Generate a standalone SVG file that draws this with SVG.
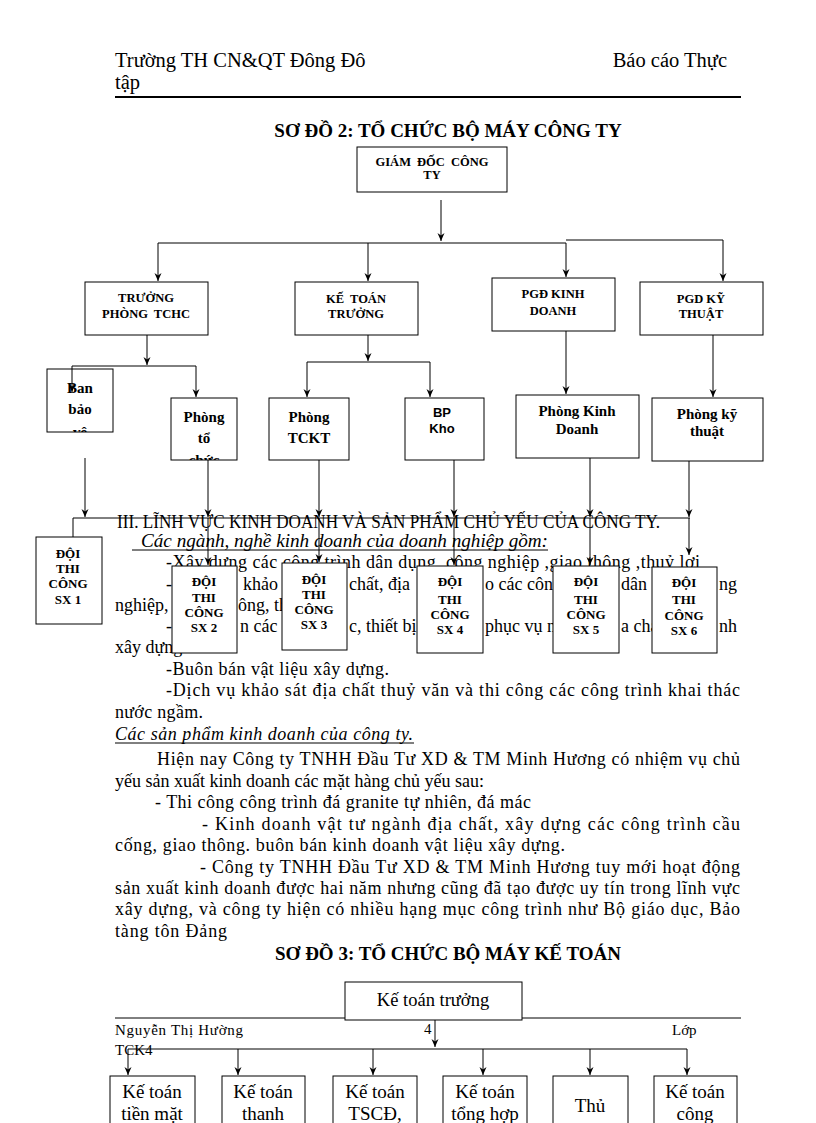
<svg xmlns="http://www.w3.org/2000/svg" width="816" height="1123" viewBox="0 0 816 1123">
<style>
.t{font-family:"Liberation Serif","Times New Roman",serif;fill:#000}
.hd{font-size:20.5px}
.bd{font-size:18px}
.it{font-style:italic}
.ttl{font-size:19px;font-weight:bold;text-anchor:middle}
.ob{font-size:12.5px;font-weight:bold;text-anchor:middle}
.dv{font-size:13px;font-weight:bold;text-anchor:middle}
.ph{font-size:15px;font-weight:bold;text-anchor:middle}
.sn{font-family:"Liberation Sans",Arial,sans-serif;font-size:13px;font-weight:bold;text-anchor:middle;fill:#000}
.kt{font-size:18.5px;text-anchor:middle}
.kb{font-size:19px;text-anchor:middle}
.ft{font-size:15px}
.bx{fill:#fff;stroke:#000;stroke-width:1}
.ln{fill:none;stroke:#000;stroke-width:1}
.ar{fill:none;stroke:#000;stroke-width:1;marker-end:url(#ah)}
</style>
<defs>
<marker id="ah" markerUnits="userSpaceOnUse" markerWidth="10" markerHeight="10" viewBox="0 -5 10 10" refX="9" refY="0" orient="auto">
<path d="M1,-3.5 L9,0 L1,3.5 L3.5,0 Z" fill="#000"/>
</marker>
<clipPath id="cBan"><rect x="47" y="369" width="66" height="63"/></clipPath>
<clipPath id="cTo"><rect x="171" y="398" width="66" height="62"/></clipPath>
</defs>
<rect width="816" height="1123" fill="#fff"/>

<g id="header">
<text class="t hd" x="115" y="67">Trường TH CN&amp;QT Đông Đô</text>
<text class="t hd" x="727" y="67" text-anchor="end">Báo cáo Thực</text>
<text class="t hd" x="115" y="89">tập</text>
<line x1="115" y1="97" x2="741" y2="97" stroke="#000" stroke-width="2.2"/>
</g>

<text class="t ttl" x="448" y="137">SƠ ĐỒ 2: TỔ CHỨC BỘ MÁY CÔNG TY</text>

<g id="body">
<text class="t bd" x="117" y="528" textLength="543" lengthAdjust="spacingAndGlyphs">III. LĨNH VỰC KINH DOANH VÀ SẢN PHẨM CHỦ YẾU CỦA CÔNG TY.</text>
<text class="t bd it" x="141" y="547" textLength="407" lengthAdjust="spacingAndGlyphs">Các ngành, nghề kinh doanh của doanh nghiệp gồm:</text>
<line x1="132" y1="550" x2="548" y2="550" stroke="#000" stroke-width="1"/>
<text class="t bd" x="166" y="568" textLength="534" lengthAdjust="spacing">-Xây dựng các công trình dân dụng, công nghiệp ,giao thông ,thuỷ lợi</text>
<text class="t bd" y="590"><tspan x="166">-</tspan><tspan x="243">khảo</tspan><tspan x="349">chất, địa</tspan><tspan x="485">o các côn</tspan><tspan x="621">dân</tspan><tspan x="719">ng</tspan></text>
<text class="t bd" y="611"><tspan x="115">nghiệp,</tspan><tspan x="238">ông, th</tspan></text>
<text class="t bd" y="632"><tspan x="166">-</tspan><tspan x="240">n các</tspan><tspan x="349">c, thiết bị</tspan><tspan x="485">phục vụ n</tspan><tspan x="621">a cha</tspan><tspan x="719">nh</tspan></text>
<text class="t bd" x="115" y="653">xây dựng</text>
<text class="t bd" x="166" y="675" textLength="223" lengthAdjust="spacing">-Buôn bán vật liệu xây dựng.</text>
<text class="t bd" x="166" y="696" textLength="574" lengthAdjust="spacing">-Dịch vụ khảo sát địa chất thuỷ văn và thi công các công trình khai thác</text>
<text class="t bd" x="115" y="718" textLength="88" lengthAdjust="spacing">nước ngầm.</text>
<text class="t bd it" x="115" y="740" textLength="298" lengthAdjust="spacing">Các sản phẩm kinh doanh của công ty.</text>
<line x1="115" y1="743" x2="414" y2="743" stroke="#000" stroke-width="1"/>
<text class="t bd" x="157" y="765" textLength="583" lengthAdjust="spacing">Hiện nay Công ty TNHH Đầu Tư XD &amp; TM Minh Hương có nhiệm vụ chủ</text>
<text class="t bd" x="115" y="787">yếu sản xuất kinh doanh các mặt hàng chủ yếu sau:</text>
<text class="t bd" x="155" y="808" textLength="376" lengthAdjust="spacing">- Thi công công trình đá granite tự nhiên, đá mác</text>
<text class="t bd" x="202" y="830" textLength="538" lengthAdjust="spacing">- Kinh doanh vật tư ngành địa chất, xây dựng các công trình cầu</text>
<text class="t bd" x="115" y="851" textLength="450" lengthAdjust="spacing">cống, giao thông. buôn bán kinh doanh vật liệu xây dựng.</text>
<text class="t bd" x="200" y="873" textLength="540" lengthAdjust="spacing">- Công ty TNHH Đầu Tư XD &amp; TM Minh Hương tuy mới hoạt động</text>
<text class="t bd" x="115" y="894" textLength="625" lengthAdjust="spacing">sản xuất kinh doanh được hai năm nhưng cũng đã tạo được uy tín trong lĩnh vực</text>
<text class="t bd" x="115" y="915" textLength="625" lengthAdjust="spacing">xây dựng, và công ty hiện có nhiều hạng mục công trình như Bộ giáo dục, Bảo</text>
<text class="t bd" x="115" y="937" textLength="112" lengthAdjust="spacing">tàng tôn Đảng</text>
</g>

<text class="t ttl" x="448" y="960">SƠ ĐỒ 3: TỔ CHỨC BỘ MÁY KẾ TOÁN</text>

<g id="footer">
<line x1="115" y1="1018" x2="741" y2="1018" stroke="#000" stroke-width="1"/>
<text class="t ft" x="115" y="1035" textLength="128" lengthAdjust="spacing">Nguyễn Thị Hường</text>
<text class="t ft" x="424" y="1034">4</text>
<text class="t ft" x="672" y="1035">Lớp</text>
<text class="t ft" x="115" y="1055">TCK4</text>
</g>

<g id="n-giamdoc"><rect class="bx" x="357" y="147" width="150" height="45"/>
<text class="t ob" x="432" y="166" word-spacing="3">GIÁM ĐỐC CÔNG</text><text class="t ob" x="432" y="179">TY</text></g>

<g id="n-tchc"><rect class="bx" x="85" y="282" width="123" height="53"/>
<text class="t ob" x="146" y="302">TRƯỞNG</text><text class="t ob" x="146" y="318" word-spacing="3">PHÒNG TCHC</text></g>
<g id="n-ketoan"><rect class="bx" x="295" y="282" width="123" height="53"/>
<text class="t ob" x="356" y="303" word-spacing="3">KẾ TOÁN</text><text class="t ob" x="356" y="318">TRƯỞNG</text></g>
<g id="n-pgdkd"><rect class="bx" x="492" y="278" width="123" height="53"/>
<text class="t ob" x="553" y="298">PGĐ KINH</text><text class="t ob" x="553" y="315">DOANH</text></g>
<g id="n-pgdkt"><rect class="bx" x="640" y="282" width="123" height="53"/>
<text class="t ob" x="701" y="303">PGD KỸ</text><text class="t ob" x="701" y="318">THUẬT</text></g>

<g id="n-banbaove"><rect class="bx" x="47" y="369" width="66" height="63"/>
<g clip-path="url(#cBan)"><text class="t ph" x="80" y="393">Ban</text><text class="t ph" x="80" y="414">bảo</text><text class="t ph" x="80" y="437">vệ</text></g></g>
<g id="n-phongto"><rect class="bx" x="171" y="398" width="66" height="62"/>
<g clip-path="url(#cTo)"><text class="t ph" x="204" y="422">Phòng</text><text class="t ph" x="204" y="443">tổ</text><text class="t ph" x="204" y="465">chức</text></g></g>
<g id="n-tckt"><rect class="bx" x="269" y="398" width="80" height="62"/>
<text class="t ph" x="309" y="422">Phòng</text><text class="t ph" x="309" y="443">TCKT</text></g>
<g id="n-bpkho"><rect class="bx" x="405" y="398" width="79" height="62"/>
<text class="sn" x="442" y="417">BP</text><text class="sn" x="442" y="433">Kho</text></g>
<g id="n-phongkd"><rect class="bx" x="516" y="395" width="123" height="63"/>
<text class="t ph" x="577" y="416">Phòng Kinh</text><text class="t ph" x="577" y="434">Doanh</text></g>
<g id="n-phongkt"><rect class="bx" x="652" y="398" width="111" height="63"/>
<text class="t ph" x="707" y="419">Phòng kỹ</text><text class="t ph" x="707" y="436">thuật</text></g>

<g id="n-sx1"><rect class="bx" x="36" y="537" width="66" height="87"/>
<text class="t dv" x="68" y="558">ĐỘI</text><text class="t dv" x="68" y="573">THI</text><text class="t dv" x="68" y="588">CÔNG</text><text class="t dv" x="68" y="604">SX 1</text></g>
<g id="n-sx2"><rect class="bx" x="172" y="566" width="65" height="87"/>
<text class="t dv" x="204" y="586">ĐỘI</text><text class="t dv" x="204" y="602">THI</text><text class="t dv" x="204" y="617">CÔNG</text><text class="t dv" x="204" y="632">SX 2</text></g>
<g id="n-sx3"><rect class="bx" x="282" y="563" width="65" height="87"/>
<text class="t dv" x="314" y="584">ĐỘI</text><text class="t dv" x="314" y="599">THI</text><text class="t dv" x="314" y="614">CÔNG</text><text class="t dv" x="314" y="629">SX 3</text></g>
<g id="n-sx4"><rect class="bx" x="417" y="566" width="66" height="87"/>
<text class="t dv" x="450" y="586">ĐỘI</text><text class="t dv" x="450" y="604">THI</text><text class="t dv" x="450" y="619">CÔNG</text><text class="t dv" x="450" y="634">SX 4</text></g>
<g id="n-sx5"><rect class="bx" x="553" y="566" width="66" height="87"/>
<text class="t dv" x="586" y="586">ĐỘI</text><text class="t dv" x="586" y="604">THI</text><text class="t dv" x="586" y="619">CÔNG</text><text class="t dv" x="586" y="634">SX 5</text></g>
<g id="n-sx6"><rect class="bx" x="652" y="567" width="65" height="86"/>
<text class="t dv" x="684" y="587">ĐỘI</text><text class="t dv" x="684" y="604">THI</text><text class="t dv" x="684" y="620">CÔNG</text><text class="t dv" x="684" y="635">SX 6</text></g>

<g id="n-kttruong"><rect class="bx" x="345" y="982" width="177" height="38"/>
<text class="t kt" x="433" y="1006">Kế toán trưởng</text></g>
<g id="n-kt1"><rect class="bx" x="110" y="1076" width="85" height="60"/>
<text class="t kb" x="152" y="1098">Kế toán</text><text class="t kb" x="152" y="1120">tiền mặt</text></g>
<g id="n-kt2"><rect class="bx" x="222" y="1076" width="83" height="60"/>
<text class="t kb" x="263" y="1098">Kế toán</text><text class="t kb" x="263" y="1120">thanh</text></g>
<g id="n-kt3"><rect class="bx" x="333" y="1076" width="84" height="60"/>
<text class="t kb" x="375" y="1098">Kế toán</text><text class="t kb" x="375" y="1120">TSCĐ,</text></g>
<g id="n-kt4"><rect class="bx" x="443" y="1076" width="84" height="60"/>
<text class="t kb" x="485" y="1098">Kế toán</text><text class="t kb" x="485" y="1120">tổng hợp</text></g>
<g id="n-kt5"><rect class="bx" x="553" y="1076" width="75" height="60"/>
<text class="t kb" x="590" y="1112">Thủ</text></g>
<g id="n-kt6"><rect class="bx" x="654" y="1076" width="83" height="60"/>
<text class="t kb" x="695" y="1098">Kế toán</text><text class="t kb" x="695" y="1120">công</text></g>

<g id="connectors">
<path class="ar" d="M441,200 V241"/>
<path class="ln" d="M158,243 H566"/>
<path class="ar" d="M158,243 V281"/>
<path class="ar" d="M368,243 V281"/>
<path class="ar" d="M566,243 V277"/>
<path class="ar" d="M566,240 H723 V281"/>
<path class="ar" d="M147,335 V365"/>
<path class="ln" d="M72,366 H196"/>
<path class="ar" d="M72,366 V392"/>
<path class="ar" d="M196,366 V397"/>
<path class="ar" d="M368,335 V361"/>
<path class="ln" d="M307,362 H430"/>
<path class="ar" d="M307,362 V397"/>
<path class="ar" d="M430,362 V397"/>
<path class="ar" d="M566,331 V394"/>
<path class="ar" d="M713,335 V397"/>
<path class="ar" d="M85,458 V517"/>
<path class="ar" d="M208,460 V517"/>
<path class="ar" d="M319,460 V517"/>
<path class="ar" d="M454,460 V517"/>
<path class="ar" d="M590,458 V517"/>
<path class="ar" d="M689,461 V517"/>
<path class="ln" d="M73,537 V518 H690"/>
<path class="ar" d="M208,518 V565"/>
<path class="ar" d="M319,518 V562"/>
<path class="ar" d="M454,518 V565"/>
<path class="ar" d="M590,518 V565"/>
<path class="ar" d="M689,518 V555"/>
<path class="ar" d="M435,1020 V1047"/>
<path class="ln" d="M128,1049 H687"/>
<path class="ar" d="M128,1049 V1075"/>
<path class="ar" d="M238,1049 V1075"/>
<path class="ar" d="M373,1049 V1075"/>
<path class="ar" d="M483,1049 V1075"/>
<path class="ar" d="M590,1049 V1075"/>
<path class="ar" d="M687,1049 V1075"/>
</g>
</svg>
